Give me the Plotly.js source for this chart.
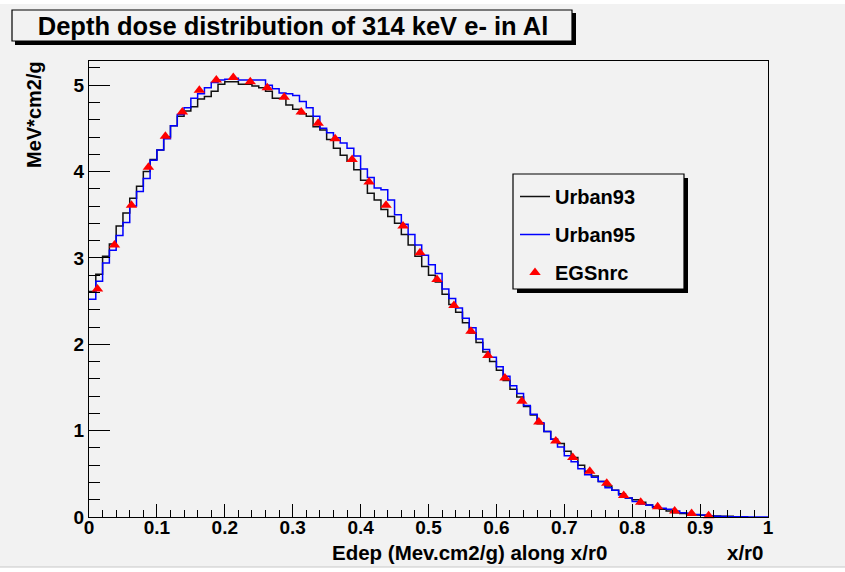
<!DOCTYPE html>
<html><head><meta charset="utf-8">
<script src="https://cdn.plot.ly/plotly-3.0.1.min.js"></script>
<style>html,body{margin:0;padding:0;background:#fff;} #chart{width:845px;height:572px;}</style>
</head><body><div id="chart"></div>
<script>
// ---- data ----
const binWidth = 0.01;
const histStart = 0;
const urban93 = [2.61, 2.81, 3.02, 3.16, 3.37, 3.52, 3.69, 3.83, 4.00, 4.14, 4.25, 4.40, 4.53, 4.64, 4.70, 4.75, 4.84, 4.87, 4.93, 5.01, 5.04, 5.04, 5.01, 5.01,
  4.99, 4.97, 4.93, 4.85, 4.85, 4.77, 4.72, 4.67, 4.64, 4.52, 4.48, 4.37, 4.27, 4.19, 4.12, 4.02, 3.90, 3.75, 3.67, 3.56, 3.48, 3.40, 3.27, 3.15, 3.02,
  2.90, 2.80, 2.72, 2.58, 2.46, 2.37, 2.25, 2.13, 2.02, 1.91, 1.80, 1.70, 1.58, 1.48, 1.39, 1.28, 1.18, 1.08, 0.99, 0.90, 0.85,
  0.76, 0.69, 0.60, 0.53, 0.475, 0.41, 0.36, 0.31, 0.27, 0.22, 0.20, 0.17, 0.14, 0.12, 0.09, 0.07, 0.05, 0.04, 0.035, 0.023, 0.02, 0.015, 0.012, 0.01, 0.008];
const urban95 = [2.52, 2.73, 2.94, 3.09, 3.26, 3.41, 3.60, 3.77, 3.92, 4.13, 4.25, 4.38, 4.53, 4.66, 4.74, 4.85, 4.90, 4.97, 5.03, 5.06, 5.07, 5.08, 5.06, 5.06,
  5.06, 5.06, 5.00, 4.96, 4.91, 4.90, 4.88, 4.81, 4.74, 4.64, 4.50, 4.45, 4.39, 4.33, 4.27, 4.18, 4.03, 3.93, 3.81, 3.79, 3.67, 3.50, 3.39, 3.27, 3.15,
  3.03, 2.92, 2.82, 2.64, 2.53, 2.42, 2.30, 2.19, 2.06, 1.94, 1.85, 1.74, 1.63, 1.52, 1.43, 1.29, 1.19, 1.09, 0.99, 0.90, 0.81,
  0.71, 0.64, 0.56, 0.49, 0.46, 0.41, 0.34, 0.31, 0.255, 0.22, 0.18, 0.15, 0.14, 0.11, 0.10, 0.09, 0.07, 0.05, 0.043, 0.03, 0.023, 0.015, 0.01, 0.006, 0.004, 0.003, 0.002, 0.001, 0, 0];
const egsX = [0.0125, 0.0375, 0.0625, 0.0875, 0.1125, 0.1375, 0.1625, 0.1875, 0.2125, 0.2375, 0.2625, 0.2875, 0.3125, 0.3375, 0.3625, 0.3875, 0.4125, 0.4375, 0.4625, 0.4875,
  0.5125, 0.5375, 0.5625, 0.5875, 0.6125, 0.6375, 0.6625, 0.6875, 0.7125, 0.7375, 0.7625, 0.7875, 0.8125, 0.8375, 0.8625, 0.8875, 0.9125];
const egsnrc = [2.64, 3.15, 3.61, 4.05, 4.41, 4.69, 4.94, 5.06, 5.09, 5.04, 4.97, 4.86, 4.69, 4.56, 4.38, 4.14, 3.88, 3.61, 3.37, 3.06,
  2.75, 2.45, 2.15, 1.87, 1.61, 1.34, 1.10, 0.88, 0.69, 0.53, 0.39, 0.25, 0.17, 0.12, 0.07, 0.04, 0.015];
const seriesNames = ['Urban93', 'Urban95', 'EGSnrc'];
const titleText = 'Depth dose distribution of 314 keV e- in Al';
const yTitle = 'MeV*cm2/g';
const xTitle = 'Edep (Mev.cm2/g) along x/r0';
const xUnit = 'x/r0';

// ---- helpers ----
function histXY(vals){
  const x = [], y = [];
  vals.forEach((v,i)=>{ x.push(histStart + i*binWidth); y.push(v); });
  x.push(histStart + vals.length*binWidth); y.push(vals[vals.length-1]);
  return {x, y};
}
const W=845, H=572, L=89, R=768, T=61, B=517;
const px2x = px => (px-L)/(R-L);
const py2y = py => (B-py)/(B-T);
const FONT = '"Liberation Sans", Arial, Helvetica, sans-serif';
const BG = '#f2f2f2';

const h93 = histXY(urban93), h95 = histXY(urban95);
const traces = [
  {type:'scatter', mode:'lines', name:seriesNames[0], x:h93.x, y:h93.y, line:{shape:'hv', color:'#111', width:1.5}, legendgroup:'a'},
  {type:'scatter', mode:'lines', name:seriesNames[1], x:h95.x, y:h95.y, line:{shape:'hv', color:'#0000ff', width:1.5}, legendgroup:'b'},
  {type:'scatter', mode:'markers', name:seriesNames[2], x:egsX, y:egsnrc, marker:{symbol:'triangle-up', color:'#ff0000', size:10}, legendgroup:'c', cliponaxis:false}
];

function rect(x0,y0,x1,y1,fill,lw,lc){
  return {type:'rect', xref:'paper', yref:'paper', x0:px2x(x0), x1:px2x(x1), y0:py2y(y1), y1:py2y(y0),
    fillcolor:fill, line:{color:lc||'#000', width:lw}, layer:'above'};
}

const layout = {
  width:W, height:H,
  margin:{l:L, r:W-R, t:T, b:H-B, pad:0},
  paper_bgcolor:BG, plot_bgcolor:BG,
  font:{family:FONT, weight:'bold', color:'#000'},
  title:{text:titleText, font:{family:FONT, size:25.5, weight:'bold', color:'#000'},
    xref:'container', yref:'container', x:293/W, xanchor:'center', y:1-26/H, yanchor:'middle'},
  xaxis:{range:[0,1], showgrid:false, zeroline:false, showline:true, mirror:true, linecolor:'#000', linewidth:1,
    ticks:'inside', ticklen:13, tickwidth:1, tickcolor:'#000', tick0:0, dtick:0.1, ticklabelstandoff:-7,
    tickfont:{family:FONT, size:19, weight:'bold', color:'#000'},
    minor:{ticks:'inside', ticklen:7, dtick:0.02, tick0:0, tickcolor:'#000', tickwidth:1, showgrid:false}},
  yaxis:{range:[0,5.28], showgrid:false, zeroline:false, showline:true, mirror:true, linecolor:'#000', linewidth:1,
    ticks:'inside', ticklen:21, tickwidth:1, tickcolor:'#000', tick0:0, dtick:1,
    tickfont:{family:FONT, size:19, weight:'bold', color:'#000'},
    minor:{ticks:'inside', ticklen:11, dtick:0.2, tick0:0, tickcolor:'#000', tickwidth:1, showgrid:false}},
  showlegend:true,
  legend:{x:px2x(515), y:py2y(177), xanchor:'left', yanchor:'top', bgcolor:'rgba(0,0,0,0)', borderwidth:0,
    font:{family:FONT, size:20, weight:'bold', color:'#000'}, traceorder:'grouped', tracegroupgap:9},
  shapes:[
    rect(-2,-2,W+2,4,'#ffffff',0),
    rect(-2,567,W+2,H+2,'#ffffff',1,'#c8c8c8'),
    rect(15,13,576,45,'#000',0),
    rect(12,10,572,41,BG,1.2),
    rect(517,178,688,293,'#000',0),
    rect(513,174,684,289,BG,1.2)
  ],
  annotations:[
    {text:yTitle, xref:'paper', yref:'paper', x:px2x(34), y:py2y(115), xanchor:'center', yanchor:'middle', textangle:-90, showarrow:false,
      font:{family:FONT, size:20, weight:'bold', color:'#000'}},
    {text:xTitle, xref:'paper', yref:'paper', x:px2x(469), y:py2y(552), xanchor:'center', yanchor:'middle', showarrow:false,
      font:{family:FONT, size:20.5, weight:'bold', color:'#000'}},
    {text:xUnit, xref:'paper', yref:'paper', x:px2x(765), y:py2y(552), xanchor:'right', yanchor:'middle', showarrow:false,
      font:{family:FONT, size:20.5, weight:'bold', color:'#000'}}
  ]
};
Plotly.newPlot('chart', traces, layout, {displayModeBar:false, staticPlot:true});
</script></body></html>
